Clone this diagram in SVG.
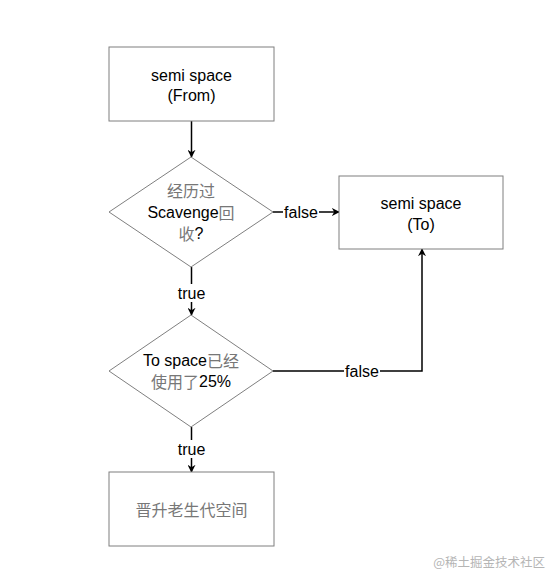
<svg xmlns="http://www.w3.org/2000/svg" width="560" height="582" viewBox="0 0 560 582">
<defs>
<marker id="arr" viewBox="0 0 10 10" refX="9" refY="5" markerWidth="8" markerHeight="8" markerUnits="userSpaceOnUse" orient="auto">
<path d="M0,0 L10,5 L0,10 L3,5 Z" fill="#000"/>
</marker>
<style>
.node{fill:#fff;stroke:#7f7f7f;stroke-width:1}
.t{font-family:"Liberation Sans",Arial,"Noto Sans CJK SC",sans-serif;font-size:16px;fill:#000;text-anchor:middle;dominant-baseline:central}
.cn{fill:#777;font-family:"Noto Sans CJK SC",sans-serif}
.edge{fill:none;stroke:#000;stroke-width:1.5}
.lbl{font-family:"Liberation Sans",Arial,sans-serif;font-size:16px;fill:#000;text-anchor:middle;dominant-baseline:central}
.lblbg{fill:#fff}
</style>
</defs>
<rect width="560" height="582" fill="#fff"/>
<g id="connectors">
<path class="edge" d="M191.5,121 V157" marker-end="url(#arr)"/>
<path class="edge" d="M273,212 H339" marker-end="url(#arr)"/>
<path class="edge" d="M191.5,267 V315" marker-end="url(#arr)"/>
<path class="edge" d="M273,371 H422 V249" marker-end="url(#arr)"/>
<path class="edge" d="M191.5,427 V472" marker-end="url(#arr)"/>
<rect class="lblbg" x="283" y="203" width="36" height="18"/>
<text class="lbl" x="301" y="212">false</text>
<rect class="lblbg" x="175" y="284" width="33" height="18"/>
<text class="lbl" x="191.5" y="293">true</text>
<rect class="lblbg" x="344" y="362" width="36" height="18"/>
<text class="lbl" x="362" y="371">false</text>
<rect class="lblbg" x="175" y="440" width="33" height="18"/>
<text class="lbl" x="191.5" y="449">true</text>
</g>
<g id="from">
<rect class="node" x="109" y="47" width="165" height="74"/>
<text class="t" x="191.5" y="75">semi space</text>
<text class="t" x="191.5" y="95">(From)</text>
</g>
<g id="scavenged">
<polygon class="node" points="191,157 273,212 191,267 109,212"/>
<text class="t cn" x="191" y="190">经历过</text>
<text class="t" x="191" y="212">Scavenge<tspan class="cn">回</tspan></text>
<text class="t" x="191" y="233"><tspan class="cn">收</tspan>?</text>
</g>
<g id="to">
<rect class="node" x="339" y="176" width="164" height="73"/>
<text class="t" x="421" y="203">semi space</text>
<text class="t" x="421" y="224">(To)</text>
</g>
<g id="used25">
<polygon class="node" points="191,315 273,371 191,427 109,371"/>
<text class="t" x="191" y="360">To space<tspan class="cn">已经</tspan></text>
<text class="t" x="191" y="381"><tspan class="cn">使用了</tspan>25%</text>
</g>
<g id="old">
<rect class="node" x="109" y="472" width="165" height="74"/>
<text class="t cn" x="191.5" y="509">晋升老生代空间</text>
</g>
<text x="545" y="561" font-family="Noto Sans CJK SC,sans-serif" font-size="12.5" fill="#b5b5b5" text-anchor="end" dominant-baseline="central">@稀土掘金技术社区</text>
</svg>
